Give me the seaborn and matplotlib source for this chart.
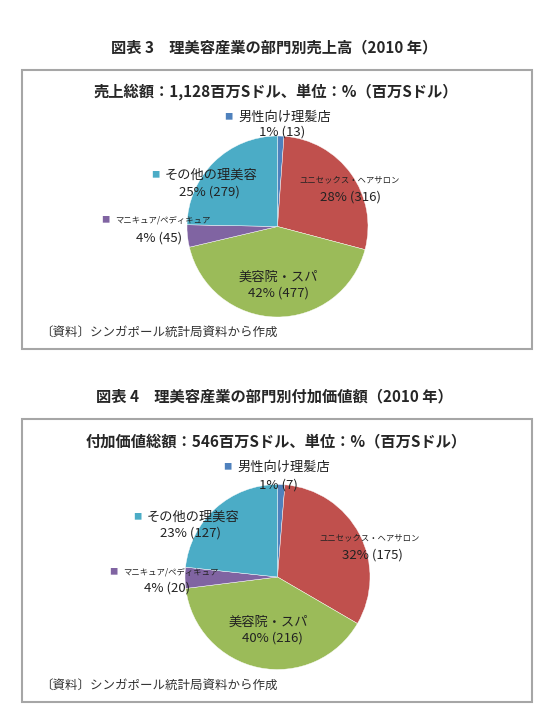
import matplotlib
matplotlib.use("Agg")
import matplotlib.pyplot as plt
import seaborn as sns
from matplotlib.patches import Rectangle

# データ
categories = ['男性向け理髪店', 'ユニセックス・ヘアサロン', '美容院・スパ', 'マニキュア/ペディキュア', 'その他の理美容']
sales = [13, 316, 477, 45, 279]
value_added = [7, 175, 216, 20, 127]
colors = ['#4F81BD', '#C0504D', '#9BBB59', '#8064A2', '#4BACC6']

sns.set_theme(style="white")
plt.rcParams['font.family'] = ['Noto Sans CJK JP', 'DejaVu Sans']

W, H = 546, 708
fig = plt.figure(figsize=(W / 100, H / 100), dpi=100)
fig.patch.set_facecolor('white')


def fx(x):
    return x / W


def fy(y):
    return 1 - y / H


def draw_panel(title, subtitle, values, top, bottom, cx, cy, r, label_pos):
    # タイトル
    fig.text(fx(274), fy(top - 23), title, ha='center', va='center', fontsize=11, fontweight='bold')
    # 枠
    fig.patches.append(Rectangle((fx(22), fy(bottom)), fx(532) - fx(22), fy(top) - fy(bottom),
                                 transform=fig.transFigure, fill=False, edgecolor='#A6A6A6', lw=1.5))
    fig.text(fx(276), fy(top + 22), subtitle, ha='center', va='center', fontsize=11, fontweight='bold')
    fig.text(fx(40), fy(bottom - 17), '〔資料〕シンガポール統計局資料から作成', ha='left', va='center',
             fontsize=9, color='#333333')

    ax = fig.add_axes([fx(cx - r), fy(cy + r), (2 * r) / W, (2 * r) / H])
    ax.pie(values, colors=colors, startangle=90, counterclock=False,
           wedgeprops=dict(edgecolor='white', linewidth=0.3))
    ax.set_xlim(-1, 1)
    ax.set_ylim(-1, 1)
    ax.axis('off')

    total = sum(values)
    for i, (name, v) in enumerate(zip(categories, values)):
        (mx, my), (px, py), small, marker = label_pos[i]
        if marker:
            fig.text(fx(mx), fy(my), '■', color=colors[i], ha='center', va='center', fontsize=6)
            fig.text(fx(mx + 10), fy(my), name, ha='left', va='center',
                     fontsize=6 if small else 9.5, color='#222222')
        else:
            fig.text(fx(mx), fy(my), name, ha='center', va='center',
                     fontsize=6 if small else 9.5, color='#222222')
        fig.text(fx(px), fy(py), f'{round(v / total * 100)}% ({v})', ha='center', va='center',
                 fontsize=9.5, color='#222222')


pos1 = [((228, 117), (282, 132), False, True),
        ((350, 180), (350, 197), True, False),
        ((278, 277), (278, 293), False, False),
        ((105, 220), (159, 238), True, True),
        ((155, 175), (209, 192), False, True)]
pos2 = [((227, 467), (278, 485), False, True),
        ((370, 538), (372, 555), True, False),
        ((268, 622), (272, 638), False, False),
        ((113, 572), (167, 588), True, True),
        ((137, 517), (190, 533), False, True)]

draw_panel('図表 3　理美容産業の部門別売上高（2010 年）', '売上総額：1,128百万Sドル、単位：%（百万Sドル）',
           sales, 70, 349, 277.5, 226.5, 90.5, pos1)
draw_panel('図表 4　理美容産業の部門別付加価値額（2010 年）', '付加価値総額：546百万Sドル、単位：%（百万Sドル）',
           value_added, 419, 702, 277.5, 577, 92.5, pos2)

fig.savefig('out.png', dpi=100, facecolor='white')
